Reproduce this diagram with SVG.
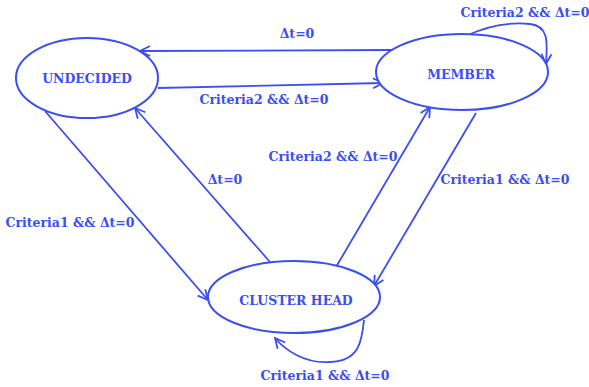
<svg xmlns="http://www.w3.org/2000/svg" width="589" height="387" viewBox="0 0 589 387">
<style>
.node{fill:#fff;stroke:#3a4ef2;stroke-width:2}
.lbl{font-family:"DejaVu Serif","Liberation Serif",serif;font-weight:bold;font-size:12.5px;fill:#3a4ef2}
.edge{fill:none;stroke:#3a4ef2;stroke-width:1.8}
</style>
<defs>
<marker id="arr" viewBox="0 0 12 12" refX="11" refY="6" markerWidth="12" markerHeight="12" markerUnits="userSpaceOnUse" orient="auto">
<path d="M1,1 L11,6 L1,11" fill="none" stroke="#3a4ef2" stroke-width="1.8"/>
</marker>
</defs>
<rect width="589" height="387" fill="#fff"/>
<g id="connectors">
<path class="edge" d="M393,50 L140,51" marker-end="url(#arr)"/>
<path class="edge" d="M158,88 L383,83" marker-end="url(#arr)"/>
<path class="edge" d="M45,111 L208,300" marker-end="url(#arr)"/>
<path class="edge" d="M270,262 L135,108" marker-end="url(#arr)"/>
<path class="edge" d="M336,267 L430,107" marker-end="url(#arr)"/>
<path class="edge" d="M476,113 L374,286" marker-end="url(#arr)"/>
<path class="edge" d="M468,35 C490,25 510,22 530,24 C550,26 547,45 546,64" marker-end="url(#arr)"/>
<path class="edge" d="M364,320 C362,340 360,361 330,362 C305,364 285,350 275,338" marker-end="url(#arr)"/>
<text class="lbl" x="297" y="38" text-anchor="middle">Δt=0</text>
<text class="lbl" x="264" y="104" text-anchor="middle">Criteria2 &amp;&amp; Δt=0</text>
<text class="lbl" x="70" y="227" text-anchor="middle">Criteria1 &amp;&amp; Δt=0</text>
<text class="lbl" x="225" y="184" text-anchor="middle">Δt=0</text>
<text class="lbl" x="333" y="161" text-anchor="middle">Criteria2 &amp;&amp; Δt=0</text>
<text class="lbl" x="505" y="184" text-anchor="middle">Criteria1 &amp;&amp; Δt=0</text>
<text class="lbl" x="525" y="17" text-anchor="middle">Criteria2 &amp;&amp; Δt=0</text>
<text class="lbl" x="325" y="380" text-anchor="middle">Criteria1 &amp;&amp; Δt=0</text>
</g>
<g id="undecided">
<ellipse class="node" cx="87" cy="78" rx="71" ry="40"/>
<text class="lbl" x="87" y="83" text-anchor="middle">UNDECIDED</text>
</g>
<g id="member">
<ellipse class="node" cx="462" cy="72" rx="86" ry="38"/>
<text class="lbl" x="461" y="79" text-anchor="middle">MEMBER</text>
</g>
<g id="cluster-head">
<ellipse class="node" cx="294" cy="297" rx="86" ry="36"/>
<text class="lbl" x="296" y="305" text-anchor="middle">CLUSTER HEAD</text>
</g>
</svg>
